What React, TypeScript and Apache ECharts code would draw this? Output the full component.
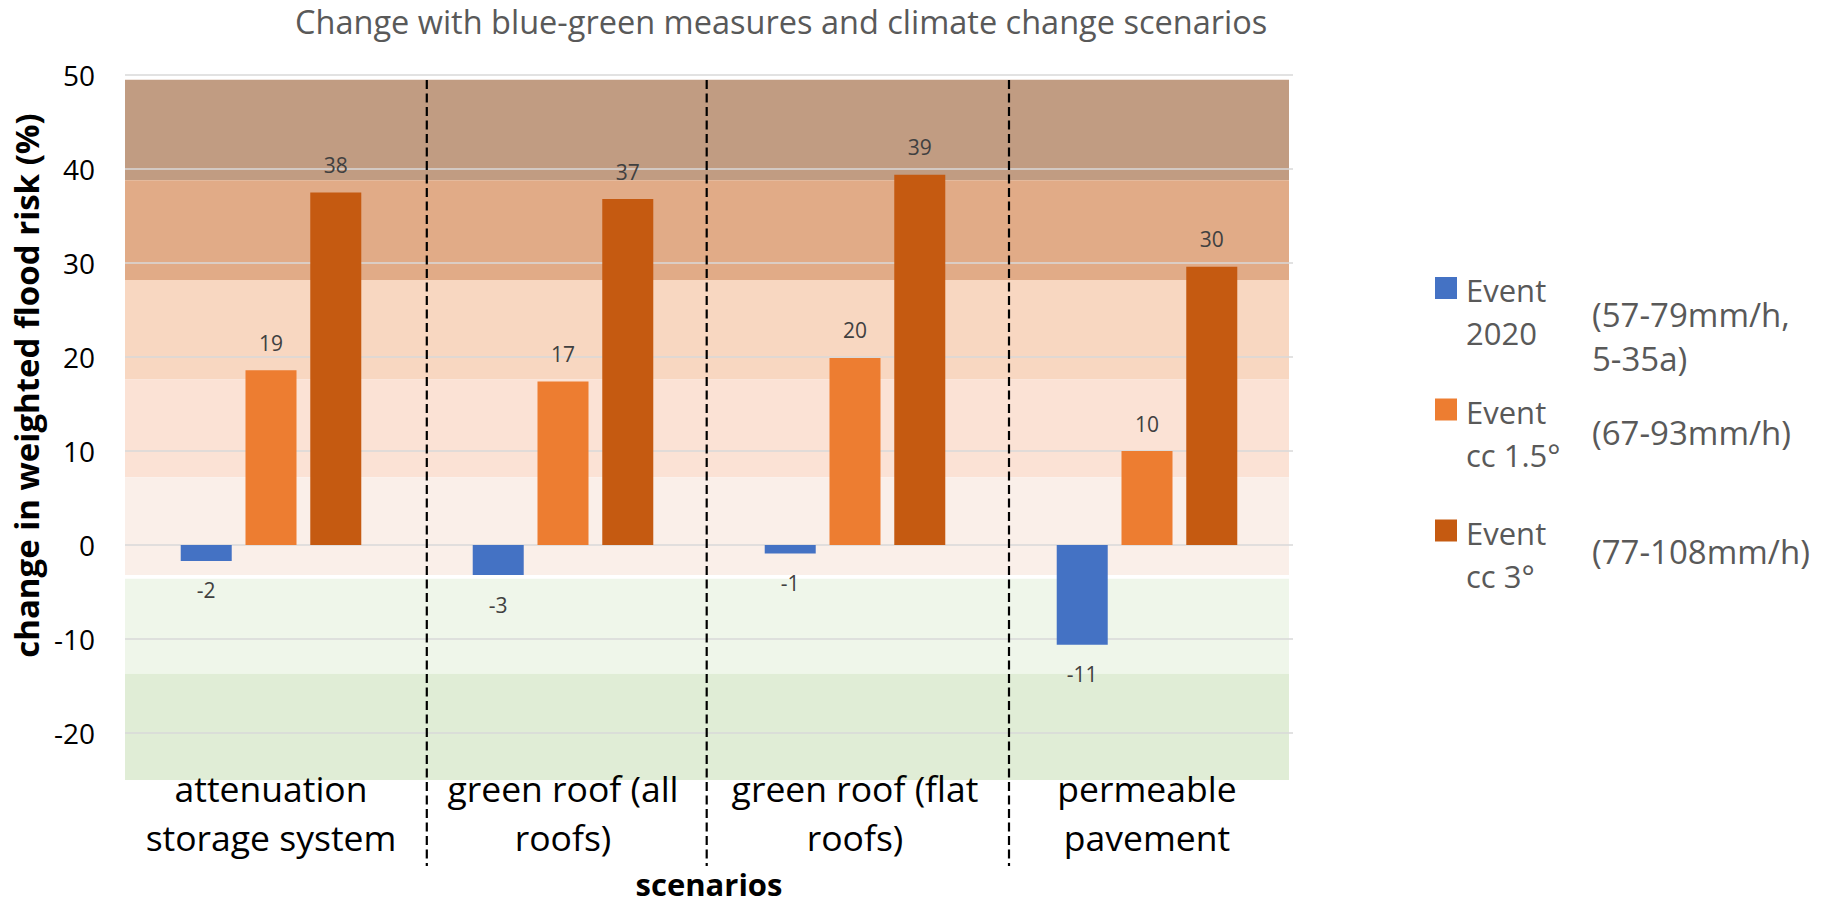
import React, { useEffect, useRef } from "react";
import * as echarts from "echarts";

const categories = [
  "attenuation\nstorage system",
  "green roof (all\nroofs)",
  "green roof (flat\nroofs)",
  "permeable\npavement",
];
const seriesNames = ["Event 2020", "Event cc 1.5°", "Event cc 3°"];
const event2020 = [-1.7, -3.2, -0.9, -10.6];
const eventCc15 = [18.6, 17.4, 19.9, 10.0];
const eventCc3 = [37.5, 36.8, 39.4, 29.6];
const yTicks = [-20, -10, 0, 10, 20, 30, 40, 50];
// risk bands: [lower, upper]
const riskBands = [
  [38.8, 49.5],
  [28.2, 38.8],
  [17.6, 28.2],
  [7.2, 17.6],
  [-3.2, 7.2],
  [-13.7, -3.6],
  [-25, -13.7],
];
const legendLines = [
  ["Event", "2020"],
  ["Event", "cc 1.5°"],
  ["Event", "cc 3°"],
];
const legendNotes = ["(57-79mm/h,\n5-35a)", "(67-93mm/h)", "(77-108mm/h)"];
const titleText = "Change with blue-green measures and climate change scenarios";
const yAxisTitle = "change in weighted flood risk (%)";
const xAxisTitle = "scenarios";

const seriesColors = ["#4472C4", "#ED7D31", "#C55A11"];
const bandColors = ["#C19C82", "#E1AB87", "#F8D7C1", "#FBE2D5", "#FAEFE9", "#EFF6EA", "#E0EDD6"];
const FONT = "'Open Sans', 'Liberation Sans', sans-serif";

export default function App() {
  const ref = useRef<HTMLDivElement>(null);
  useEffect(() => {
    document.body.style.margin = "0";
    const chart = echarts.init(ref.current!, undefined, { renderer: "svg" });
    const values = [event2020, eventCc15, eventCc3];

    const barSeries = values.map((vals, si) => ({
      type: "bar",
      name: seriesNames[si],
      barWidth: 51,
      barGap: "27%",
      z: 3,
      itemStyle: { color: seriesColors[si] },
      data: vals.map((v) => ({
        value: v,
        label: {
          show: true,
          position: v < 0 ? "bottom" : "top",
          distance: v < 0 ? 19 : 17,
          formatter: (p: any) => String(Math.round(p.value)),
          fontFamily: FONT,
          fontSize: 21,
          color: "#404040",
        },
      })),
    }));

    const bandSeries = {
      type: "custom",
      name: "risk bands",
      z: -5,
      silent: true,
      clip: false,
      encode: { x: 0, y: [1, 2] },
      data: riskBands.map((b) => [0, b[0], b[1]]),
      renderItem: (params: any, api: any) => {
        const cs = params.coordSys;
        const yTop = api.coord([0, api.value(2)])[1];
        const yBot = api.coord([0, api.value(1)])[1];
        return {
          type: "rect",
          shape: { x: cs.x, y: yTop, width: cs.width - 4, height: yBot - yTop },
          style: { fill: bandColors[params.dataIndex] },
          silent: true,
        };
      },
    };

    const dashX = [426.8, 706.7, 1009];
    const graphics: any[] = [];
    dashX.forEach((x) =>
      graphics.push({
        type: "line",
        z: 100,
        shape: { x1: x, y1: 80, x2: x, y2: 866 },
        style: { stroke: "#000", lineWidth: 2.2, lineDash: [9, 4.5] },
      })
    );
    const sqTop = [277, 398.5, 519.5];
    const firstLine = [290, 411.7, 533];
    const noteCenter = [336.5, 432, 551];
    legendLines.forEach((lines, i) => {
      graphics.push({
        type: "rect",
        shape: { x: 1435, y: sqTop[i], width: 22, height: 22 },
        style: { fill: seriesColors[i] },
      });
      graphics.push({
        type: "text",
        x: 1466,
        y: firstLine[i] - 21.5,
        style: {
          text: lines.join("\n"),
          fontFamily: FONT,
          fontSize: 31,
          lineHeight: 43,
          fill: "#595959",
          verticalAlign: "top",
          align: "left",
        },
      });
      graphics.push({
        type: "text",
        x: 1592,
        y: noteCenter[i],
        style: {
          text: legendNotes[i],
          fontFamily: FONT,
          fontSize: 33,
          lineHeight: 44,
          fill: "#595959",
          verticalAlign: "middle",
          align: "left",
        },
      });
    });

    chart.setOption({
      animation: false,
      title: {
        text: titleText,
        left: 295,
        top: 5,
        padding: 0,
        textStyle: { fontFamily: FONT, fontSize: 32.5, fontWeight: "normal", color: "#595959" },
      },
      grid: { left: 125, right: 538, top: 75, bottom: 121.3, containLabel: false },
      xAxis: {
        type: "category",
        data: categories,
        name: xAxisTitle,
        nameLocation: "middle",
        nameGap: 88,
        nameTextStyle: { fontFamily: FONT, fontSize: 31, fontWeight: "bold", color: "#000" },
        axisLine: { show: false },
        axisTick: { show: false },
        axisLabel: {
          interval: 0,
          margin: -17,
          fontFamily: FONT,
          fontSize: 35.5,
          lineHeight: 49,
          color: "#000",
        },
      },
      yAxis: {
        type: "value",
        min: -25,
        max: 50,
        name: yAxisTitle,
        nameLocation: "middle",
        nameGap: 73,
        nameTextStyle: {
          fontFamily: FONT,
          fontSize: 33,
          fontWeight: "bold",
          color: "#000",
          padding: [0, 0, 0, 84],
        },
        axisLine: { show: false },
        axisTick: { show: false, customValues: yTicks },
        axisLabel: { customValues: yTicks, margin: 30, fontFamily: FONT, fontSize: 28, color: "#000" },
        splitLine: { show: true, lineStyle: { color: "#D9D9D9", width: 1.6 } },
      },
      series: [bandSeries, ...barSeries],
      graphic: graphics,
    });
    return () => chart.dispose();
  }, []);
  return <div ref={ref} style={{ width: 1831, height: 904 }} />;
}
